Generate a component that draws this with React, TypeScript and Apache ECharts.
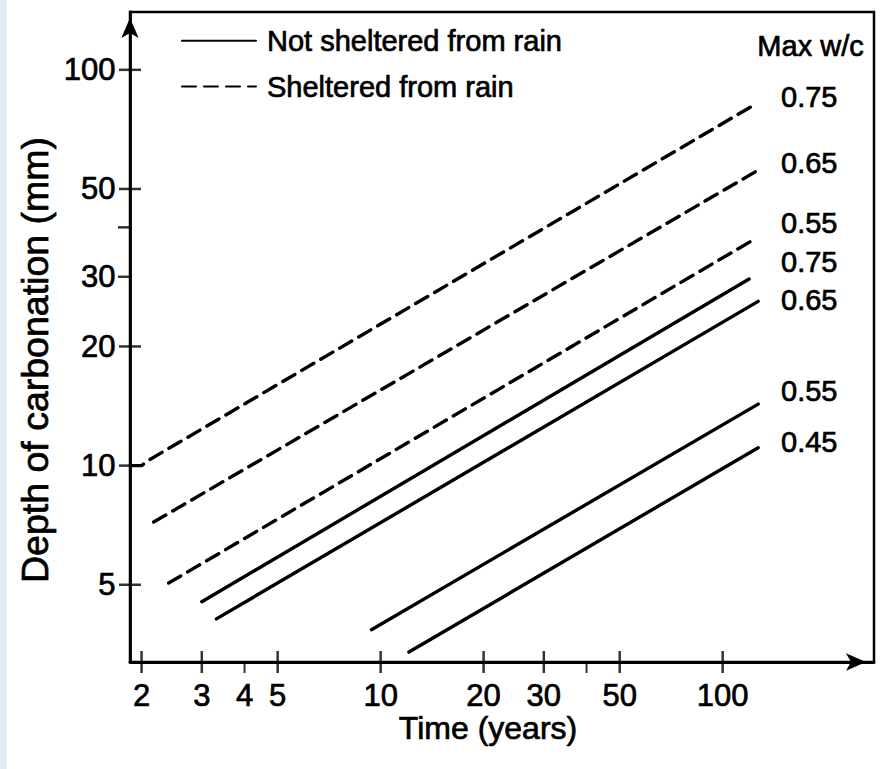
import React, { useEffect, useRef } from 'react';
import * as echarts from 'echarts';

// Axis extents (log scales)
const X_MIN = 1.85;
const X_MAX = 277;
const Y_MIN = 3.19;
const Y_MAX = 140;

// Tick marks and labels
const xTickValues = [2, 3, 5, 10, 20, 30, 50, 100];
const xMinorTickValues = [4, 40];
const xTickLabels = [2, 3, 4, 5, 10, 20, 30, 50, 100];
const yTickValues = [5, 10, 20, 50, 100];
const yShortTickValues = [30, 40];
const yTickLabels = [5, 10, 20, 30, 50, 100];

// Max w/c labels (top to bottom)
const wcLabels = ['0.75', '0.65', '0.55', '0.75', '0.65', '0.55', '0.45'];

// Series: [time (years), depth of carbonation (mm)]
const sheltered075 = [[1.85, 10], [2.0, 10], [2.09, 10.3], [122, 81]];
const sheltered065 = [[2.17, 7.2], [128, 56]];
const sheltered055 = [[2.4, 5.05], [123, 37.2]];
const notSheltered075 = [[3.0, 4.53], [119.5, 29.6]];
const notSheltered065 = [[3.31, 4.1], [127, 26]];
const notSheltered055 = [[9.4, 3.85], [127, 14.3]];
const notSheltered045 = [[12.1, 3.38], [127, 11.1]];

const NOT_SHELTERED = 'Not sheltered from rain';
const SHELTERED = 'Sheltered from rain';

const FONT = '"Liberation Sans", Arial, Helvetica, sans-serif';
const TEXT_STROKE = { textBorderColor: '#000', textBorderWidth: 0.7 };

function lineSeries(name: string, data: number[][], dashed: boolean) {
  return {
    type: 'line',
    name,
    data,
    symbol: 'none',
    showSymbol: false,
    silent: true,
    z: 3,
    itemStyle: { color: '#000' },
    lineStyle: { color: '#000', width: 3.4, type: dashed ? [14, 8] : 'solid', cap: 'round' },
  };
}

function labelSeries(data: number[][], position: string, distance: number, idx: number) {
  return {
    type: 'scatter',
    data,
    symbol: 'rect',
    symbolSize: 1,
    itemStyle: { color: '#000', opacity: 1 },
    clip: false,
    silent: true,
    z: 5,
    label: {
      show: true,
      position,
      distance,
      fontSize: 31,
      color: '#000',
      opacity: 1,
      fontFamily: FONT,
      ...TEXT_STROKE,
      formatter: (p: any) => String(p.value[idx]),
    },
  };
}

export default function App() {
  const ref = useRef<HTMLDivElement>(null);

  useEffect(() => {
    document.body.style.margin = '0';
    if (!ref.current) return;
    const chart = echarts.init(ref.current, null, { renderer: 'svg' });

    const labelYs = [97, 163, 223, 262, 300, 391, 442];

    const option = {
      animation: false,
      backgroundColor: '#fff',
      textStyle: { fontFamily: FONT, color: '#000' },
      grid: {
        left: 130,
        right: 14,
        top: 12,
        bottom: 107,
        show: true,
        borderColor: '#000',
        borderWidth: 2.5,
        backgroundColor: 'transparent',
      },
      legend: {
        data: [NOT_SHELTERED, SHELTERED],
        orient: 'vertical',
        left: 176,
        top: 21,
        itemWidth: 74,
        itemHeight: 14,
        itemGap: 16,
        selectedMode: false,
        itemStyle: { opacity: 0 },
        textStyle: { fontSize: 29, color: '#000', fontFamily: FONT, padding: [0, 0, 0, 6], ...TEXT_STROKE },
      },
      xAxis: {
        type: 'log',
        min: X_MIN,
        max: X_MAX,
        name: 'Time (years)',
        nameLocation: 'middle',
        nameGap: 50,
        nameTextStyle: { fontSize: 32, color: '#000', fontFamily: FONT, padding: [0, 28, 0, 0], ...TEXT_STROKE },
        axisLine: {
          show: true,
          lineStyle: { color: '#000', width: 2.8 },
          symbol: ['none', 'arrow'],
          symbolSize: [13, 20],
          symbolOffset: [0, -8],
        },
        axisTick: { show: false },
        axisLabel: { show: false },
        splitLine: { show: false },
        minorTick: { show: false },
      },
      yAxis: {
        type: 'log',
        min: Y_MIN,
        max: Y_MAX,
        name: 'Depth of carbonation (mm)',
        nameLocation: 'middle',
        nameGap: 76,
        nameTextStyle: { fontSize: 37.5, color: '#000', fontFamily: FONT, padding: [0, 46, 0, 0], ...TEXT_STROKE },
        axisLine: {
          show: true,
          lineStyle: { color: '#000', width: 2.8 },
          symbol: ['none', 'arrow'],
          symbolSize: [13, 20],
          symbolOffset: [0, -6],
        },
        axisTick: { show: false },
        axisLabel: { show: false },
        splitLine: { show: false },
        minorTick: { show: false },
      },
      series: [
        lineSeries(NOT_SHELTERED, notSheltered075, false),
        lineSeries(SHELTERED, sheltered075, true),
        lineSeries(SHELTERED, sheltered065, true),
        lineSeries(SHELTERED, sheltered055, true),
        lineSeries(NOT_SHELTERED, notSheltered065, false),
        lineSeries(NOT_SHELTERED, notSheltered055, false),
        lineSeries(NOT_SHELTERED, notSheltered045, false),
        // x ticks crossing the axis
        {
          type: 'scatter',
          data: xTickValues.map((v) => [v, Y_MIN]),
          symbol: 'rect',
          symbolSize: [2.5, 22],
          itemStyle: { color: '#000' },
          clip: false,
          silent: true,
          z: 4,
        },
        {
          type: 'scatter',
          data: xMinorTickValues.map((v) => [v, Y_MIN]),
          symbol: 'rect',
          symbolSize: [2, 11],
          symbolOffset: [0, 5.5],
          itemStyle: { color: '#000' },
          clip: false,
          silent: true,
          z: 4,
        },
        labelSeries(xTickLabels.map((v) => [v, Y_MIN]), 'bottom', 17, 0),
        // y ticks
        {
          type: 'scatter',
          data: yTickValues.map((v) => [X_MIN, v]),
          symbol: 'rect',
          symbolSize: [22, 2.5],
          itemStyle: { color: '#000' },
          clip: false,
          silent: true,
          z: 4,
        },
        {
          type: 'scatter',
          data: yShortTickValues.map((v) => [X_MIN, v]),
          symbol: 'rect',
          symbolSize: [12, 2.5],
          symbolOffset: [-6, 0],
          itemStyle: { color: '#000' },
          clip: false,
          silent: true,
          z: 4,
        },
        labelSeries(yTickLabels.map((v) => [X_MIN, v]), 'left', 14, 1),
      ],
      graphic: [
        {
          type: 'rect',
          shape: { x: 0, y: 0, width: 7, height: 769 },
          style: { fill: '#e3e9f6' },
          silent: true,
          z: -1,
        },
        {
          type: 'text',
          left: 757,
          top: 31,
          style: { text: 'Max w/c', fontSize: 29, fill: '#000', fontFamily: FONT, stroke: '#000', lineWidth: 0.7 },
          silent: true,
        },
        ...wcLabels.map((t, i) => ({
          type: 'text',
          x: 781,
          y: labelYs[i],
          style: {
            text: t,
            fontSize: 29,
            fill: '#000',
            fontFamily: FONT,
            verticalAlign: 'middle',
            align: 'left',
            stroke: '#000',
            lineWidth: 0.7,
          },
          silent: true,
        })),
      ],
    };

    chart.setOption(option as any);
    return () => {
      chart.dispose();
    };
  }, []);

  return <div ref={ref} style={{ width: 888, height: 769 }} />;
}
